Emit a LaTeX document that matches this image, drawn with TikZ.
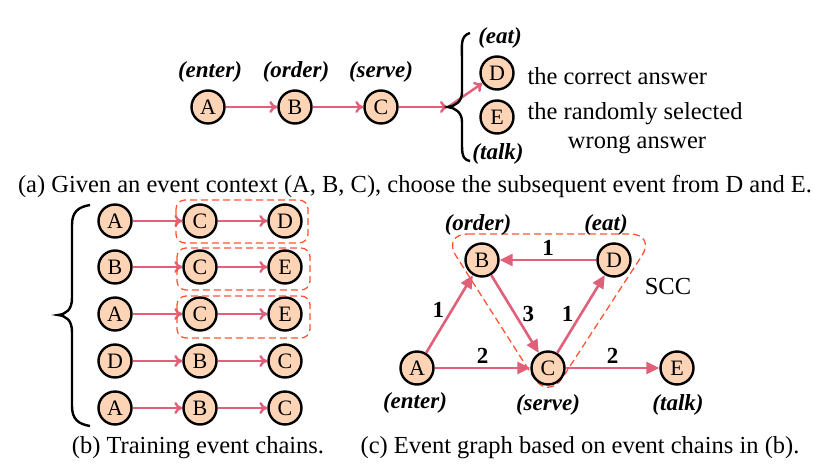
\documentclass[tikz,border=0pt]{standalone}
\usepackage{fontspec}
\setmainfont{Liberation Serif}
\usetikzlibrary{arrows.meta,decorations.pathreplacing}
\definecolor{nfill}{HTML}{FDD5B6}
\definecolor{arr}{HTML}{E0607A}
\definecolor{dsh}{HTML}{FF5533}
\begin{document}
\begin{tikzpicture}[x=1pt,y=-1pt,
 ev/.style={circle,draw=black,line width=2.4pt,fill=nfill,minimum size=33pt,inner sep=0pt,font=\fontsize{22}{22}\selectfont},
 lab/.style={font=\fontsize{23}{23}\selectfont\bfseries\itshape},
 txt/.style={font=\fontsize{24.5}{26}\selectfont},
 oa/.style={draw=arr,line width=2.4pt,-{To[length=8pt,width=12pt]}},
 fa/.style={draw=arr,line width=2.6pt,-{Triangle[length=13pt,width=12pt]}},
 dbox/.style={draw=dsh,dash pattern=on 7pt off 4pt,line width=1.3pt,rounded corners=9pt},
 wl/.style={font=\fontsize{23}{23}\selectfont\bfseries}]
\useasboundingbox (0,0) rectangle (830,474);
% (a)
\node[ev] (a1) at (208,107) {A};
\node[ev] (a2) at (295,107) {B};
\node[ev] (a3) at (381,107) {C};
\node[ev] (a4) at (497,73) {D};
\node[ev] (a5) at (497,117) {E};
\node[lab] (l1) at (210,72) {(enter)};
\node[lab] (l2) at (296,72) {(order)};
\node[lab] (l3) at (381,72) {(serve)};
\node[lab] (l4) at (500,38) {(eat)};
\node[lab] (l5) at (498,154) {(talk)};
\draw[oa] (a1) -- (a2);
\draw[oa] (a2) -- (a3);
\coordinate (tip) at (448,107);
\draw[oa] (a3) -- (tip);
\draw[oa] (tip) -- (a4);
\draw[line width=2.4pt] (470,33) .. controls (460,36) and (462,45) .. (462,60) -- (462,92) .. controls (462,102) and (455,106) .. (448,107) .. controls (455,108) and (462,112) .. (462,122) -- (462,146) .. controls (462,158) and (465,160) .. (470,161);
\node[txt,anchor=west] (t1) at (524,76) {the correct answer};
\node[txt,anchor=west] (t2) at (524,114) {the randomly selected};
\node[txt] (t3) at (637,145) {wrong answer};
\node[txt] (ca) at (415,186) {(a) Given an event context (A, B, C), choose the subsequent event from D and E.};
% (b)
\foreach \r/\y/\p/\q/\s in {1/221/A/C/D,2/267/B/C/E,3/314/A/C/E,4/361/D/B/C,5/408/A/B/C}{
 \node[ev] (b\r1) at (115,\y) {\p};
 \node[ev] (b\r2) at (200,\y) {\q};
 \node[ev] (b\r3) at (285,\y) {\s};
 \draw[oa] (b\r1) -- (b\r2);
 \draw[oa] (b\r2) -- (b\r3);
}
\draw[dbox] (176,200) rectangle (308,243);
\draw[dbox] (177,248) rectangle (310,290);
\draw[dbox] (177,296) rectangle (310,338);
\draw[line width=2.4pt] (90,205) .. controls (78,207) and (72,212) .. (72,225) -- (72,298) .. controls (72,310) and (66,314) .. (58,315) .. controls (66,316) and (72,320) .. (72,332) -- (72,406) .. controls (72,419) and (78,424) .. (90,426);
\node[txt] (cb) at (198,448) {(b) Training event chains.};
% (c)
\draw[dbox,rounded corners=26pt] (442,234) -- (656,234) -- (548,400) -- cycle;
\node[ev] (A) at (417,368) {A};
\node[ev] (B) at (482,260) {B};
\node[ev] (C) at (548,368) {C};
\node[ev] (D) at (614,260) {D};
\node[ev] (E) at (677,368) {E};
\node[lab] (lo) at (478,225) {(order)};
\node[lab] (le) at (606,225) {(eat)};
\node[lab] (len) at (415,403) {(enter)};
\node[lab] (ls) at (548,405) {(serve)};
\node[lab] (lt) at (678,405) {(talk)};
\draw[fa] (D) -- node[wl,above=0pt] {1} (B);
\draw[fa] (B) -- node[wl,right=3pt] {3} (C);
\draw[fa] (C) -- node[wl,left=3pt] {1} (D);
\draw[fa] (A) -- node[wl,left=3pt,pos=0.55] {1} (B);
\draw[fa] (A) -- node[wl,above=0pt] {2} (C);
\draw[fa] (C) -- node[wl,above=0pt] {2} (E);
\node[txt] (scc) at (668,287) {SCC};
\node[txt] (cc) at (580,448) {(c) Event graph based on event chains in (b).};
\end{tikzpicture}
\end{document}
